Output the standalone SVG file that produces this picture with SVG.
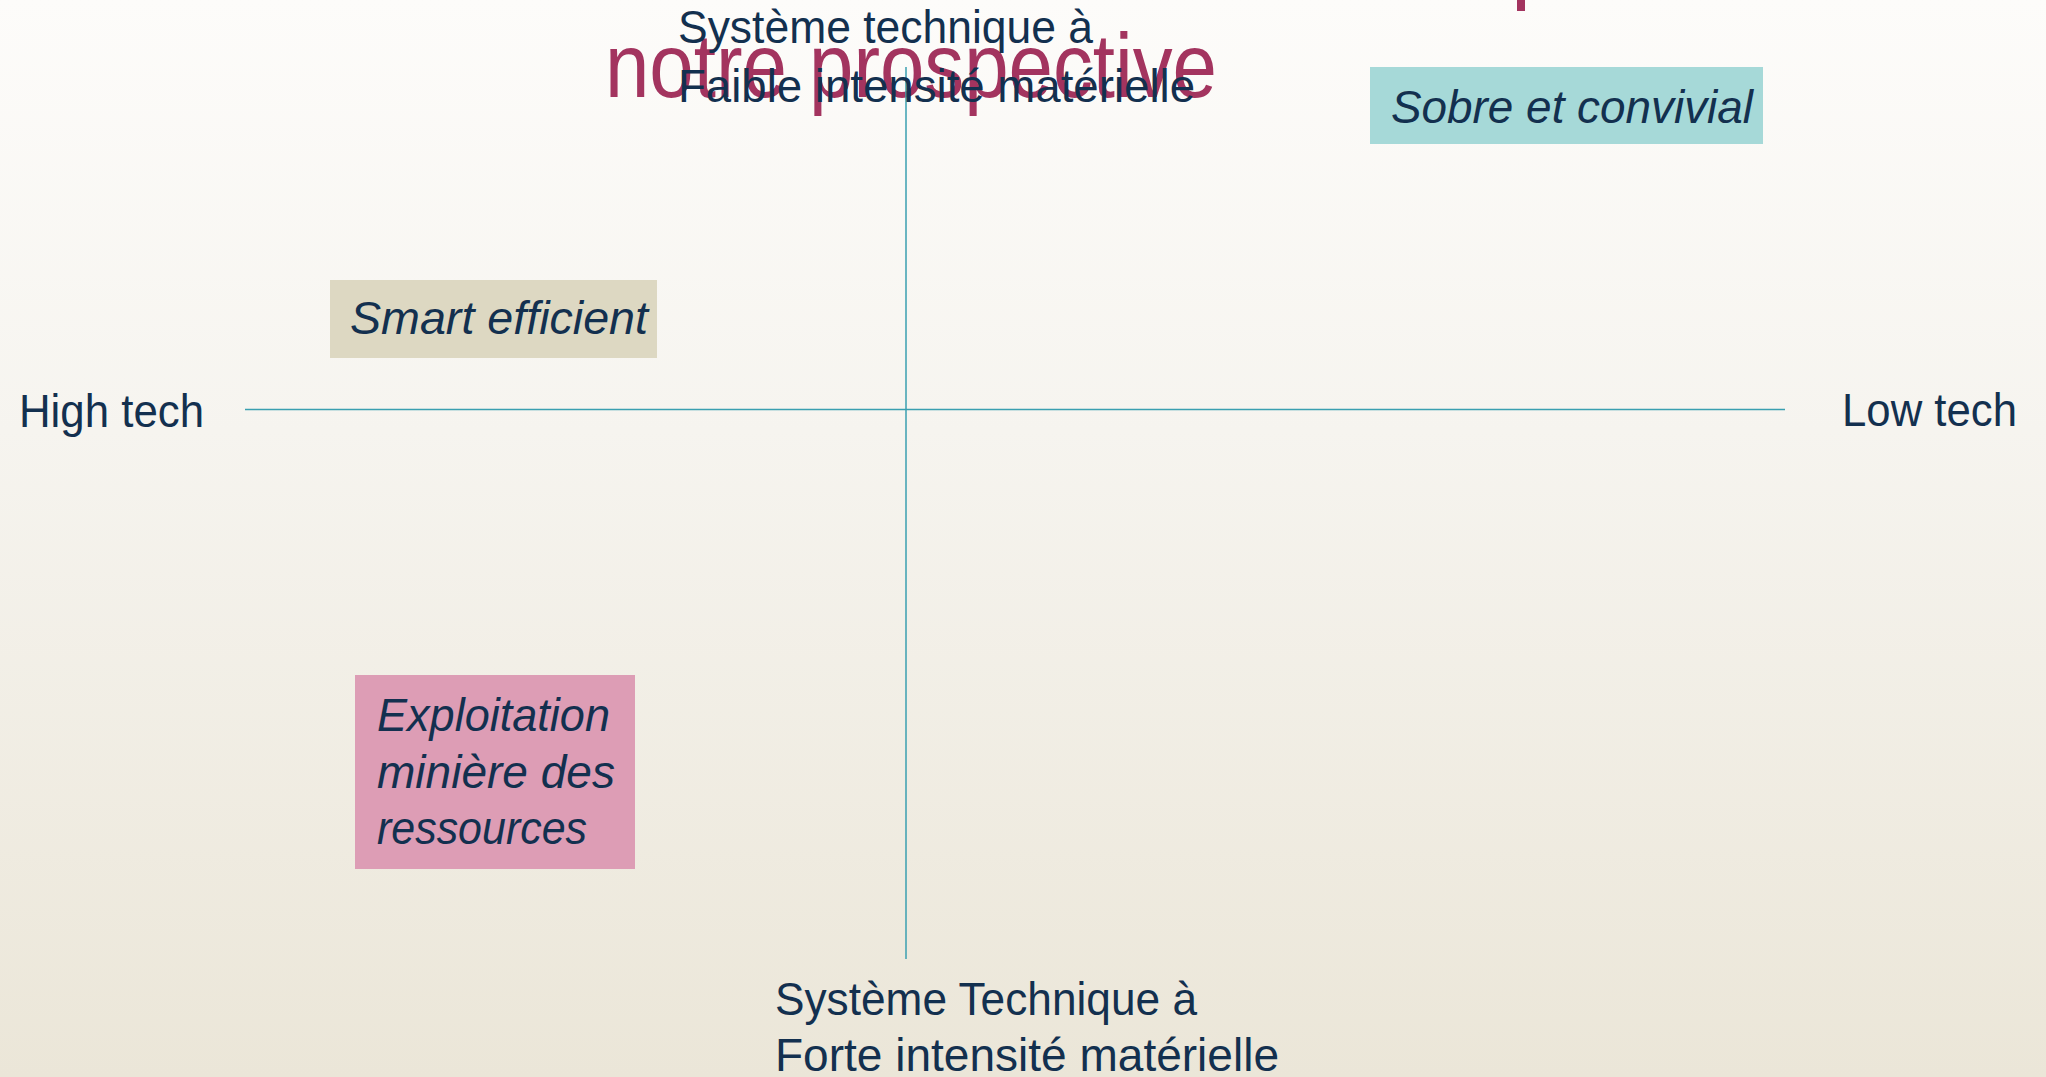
<svg xmlns="http://www.w3.org/2000/svg" width="2046" height="1077" viewBox="0 0 2046 1077">
  <defs>
    <linearGradient id="bg" x1="0" y1="0" x2="0" y2="1">
      <stop offset="0" stop-color="#fdfcfa"/>
      <stop offset="0.4" stop-color="#f6f4ef"/>
      <stop offset="1" stop-color="#ebe6d8"/>
    </linearGradient>
  </defs>
  <style>
    .lbl { font-family: "Liberation Sans", Arial, sans-serif; font-size: 46px; fill: #13304f; }
    .it { font-family: "Liberation Sans", Arial, sans-serif; font-size: 46px; font-style: italic; fill: #13304f; }
    .title { font-family: "Liberation Sans", Arial, sans-serif; font-size: 90px; fill: #a3345f; }
    .axis { stroke: #3a9fb0; stroke-width: 1.5; fill: none; }
  </style>
  <rect x="0" y="0" width="2046" height="1077" fill="url(#bg)"/>

  <g id="title">
    <rect x="1517" y="0" width="8" height="11" fill="#a3345f"/>
    <text class="title" x="605" y="97" textLength="612" lengthAdjust="spacingAndGlyphs">notre prospective</text>
  </g>

  <g id="connectors">
    <line class="axis" x1="906" y1="67" x2="906" y2="959"/>
    <line class="axis" x1="245" y1="409.5" x2="1785" y2="409.5"/>
  </g>

  <g id="top-label">
    <text class="lbl" x="678" y="43" textLength="415" lengthAdjust="spacingAndGlyphs">Système technique à</text>
    <text class="lbl" x="678" y="102" textLength="517" lengthAdjust="spacingAndGlyphs">Faible intensité matérielle</text>
  </g>

  <g id="bottom-label">
    <text class="lbl" x="775" y="1015" textLength="422" lengthAdjust="spacingAndGlyphs">Système Technique à</text>
    <text class="lbl" x="775" y="1071" textLength="504" lengthAdjust="spacingAndGlyphs">Forte intensité matérielle</text>
  </g>

  <g id="left-label">
    <text class="lbl" x="19" y="427" textLength="185" lengthAdjust="spacingAndGlyphs">High tech</text>
  </g>

  <g id="right-label">
    <text class="lbl" x="1842" y="426" textLength="175" lengthAdjust="spacingAndGlyphs">Low tech</text>
  </g>

  <g id="sobre">
    <rect x="1370" y="67" width="393" height="77" fill="#a6d9d8"/>
    <text class="it" x="1391" y="123" textLength="362" lengthAdjust="spacingAndGlyphs">Sobre et convivial</text>
  </g>

  <g id="smart">
    <rect x="330" y="280" width="327" height="78" fill="#ddd8c2"/>
    <text class="it" x="350" y="334" textLength="298" lengthAdjust="spacingAndGlyphs">Smart efficient</text>
  </g>

  <g id="exploitation">
    <rect x="355" y="675" width="280" height="194" fill="#dd9db5"/>
    <text class="it" x="377" y="731" textLength="233" lengthAdjust="spacingAndGlyphs">Exploitation</text>
    <text class="it" x="377" y="788" textLength="238" lengthAdjust="spacingAndGlyphs">minière des</text>
    <text class="it" x="377" y="844" textLength="210" lengthAdjust="spacingAndGlyphs">ressources</text>
  </g>
</svg>
